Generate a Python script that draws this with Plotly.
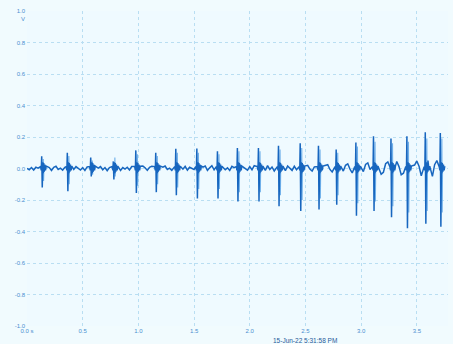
import plotly.graph_objects as go

# Spike (beat) times in seconds, with positive and negative peak voltages
spike_t = [0.132, 0.362, 0.572, 0.775, 0.977, 1.156, 1.336, 1.525, 1.710, 1.889, 2.078,
           2.258, 2.453, 2.617, 2.776, 2.953, 3.111, 3.268, 3.411, 3.576, 3.711]
spike_up = [0.078, 0.10, 0.07, 0.045, 0.115, 0.10, 0.125, 0.127, 0.11, 0.13, 0.13,
            0.145, 0.16, 0.145, 0.12, 0.165, 0.205, 0.19, 0.205, 0.23, 0.225]
spike_down = [-0.12, -0.145, -0.05, -0.07, -0.155, -0.15, -0.17, -0.19, -0.19, -0.21, -0.21,
              -0.24, -0.27, -0.26, -0.23, -0.30, -0.27, -0.31, -0.38, -0.35, -0.37]
# Paler companion spikes drawn just after each main spike
ghost_up = [0.06, 0.08, 0.05, 0.07, 0.09, 0.08, 0.10, 0.10, 0.09, 0.11, 0.11,
            0.12, 0.13, 0.12, 0.10, 0.14, 0.17, 0.16, 0.17, 0.19, 0.19]
ghost_down = [-0.08, -0.10, -0.04, -0.05, -0.11, -0.10, -0.12, -0.13, -0.13, -0.15, -0.15,
              -0.17, -0.20, -0.19, -0.17, -0.22, -0.21, -0.24, -0.28, -0.27, -0.28]

# Baseline samples read every 0.02 s
bg_step = 0.02
bg_v = [
    0.0, -0.008, 0.006, -0.01, 0.008, 0.002, -0.012, 0.01, 0.012, -0.006, 0.006, -0.012, 0.008,
    0.014, -0.006, 0.002, -0.01, 0.008, 0.0, -0.008, 0.01, -0.006, 0.012, 0.002, -0.01,
    0.006, -0.012, 0.01, 0.008, -0.006, 0.014, -0.01, 0.002, 0.012, -0.008, 0.006, -0.014, 0.006,
    0.012, -0.007, 0.0, 0.01, -0.012, 0.006, -0.004, 0.008, -0.01, 0.012, 0.002, -0.008,
    0.012, -0.01, 0.016, 0.004, -0.012, 0.008, 0.014, -0.008, 0.0, 0.01, -0.014, 0.008, 0.016,
    -0.006, 0.002, -0.012, 0.01, 0.004, -0.008, 0.012, -0.004, 0.014, -0.01, 0.008, 0.002,
    -0.006, 0.014, 0.02, -0.01, 0.008, 0.016, -0.012, 0.004, 0.018, -0.008, 0.012, -0.014, 0.01,
    0.018, -0.008, 0.004, -0.012, 0.014, 0.006, -0.01, 0.012, -0.006, 0.016, 0.002, -0.01,
    0.012, -0.008, 0.018, 0.008, -0.014, 0.016, 0.004, -0.012, 0.018, -0.006, 0.01, -0.016, 0.014,
    0.02, -0.01, 0.006, -0.014, 0.016, 0.004, -0.012, 0.014, -0.008, 0.018, 0.006, -0.012,
    0.014, 0.02, -0.004, -0.016, 0.01, 0.022, 0.004, -0.018, -0.012, 0.018, 0.024, -0.006, -0.022,
    0.012, 0.026, 0.008, -0.024, -0.016, 0.02, 0.03, -0.004, -0.028, 0.016, 0.03, 0.004,
    -0.03, -0.02, 0.026, 0.036, -0.006, -0.034, 0.018, 0.04, 0.01, -0.036, -0.024, 0.03, 0.042,
    -0.008, -0.04, 0.02, 0.044, 0.012, -0.04, -0.03, 0.034, 0.046, -0.01, -0.044, 0.022,
    0.048, 0.014, -0.046, -0.034, 0.036, 0.05, -0.012, -0.05, 0.024, 0.05, 0.01, -0.048, -0.036, 0.03,
]
# Small burst that follows each spike (offset s, value V)
burst_dt = [0.010, 0.014, 0.018, 0.023, 0.028, 0.034, 0.040]
burst_v = [0.04, -0.03, 0.035, -0.02, 0.025, -0.012, 0.015]

x_tick_vals = [0.0, 0.5, 1.0, 1.5, 2.0, 2.5, 3.0, 3.5]
x_tick_text = ["0.0 s", "0.5", "1.0", "1.5", "2.0", "2.5", "3.0", "3.5"]
y_tick_vals = [1.0, 0.8, 0.6, 0.4, 0.2, 0.0, -0.2, -0.4, -0.6, -0.8, -1.0]
y_tick_text = ["1.0", "0.8", "0.6", "0.4", "0.2", "0.0", "-0.2", "-0.4", "-0.6", "-0.8", "-1.0"]
timestamp = "15-Jun-22 5:31:58 PM"

# Main polyline: baseline samples plus beat vertices
pts = []
for i, v in enumerate(bg_v):
    t = i * bg_step
    if min(abs(t - s) for s in spike_t) > 0.02 and min(abs(t - s - 0.04) for s in spike_t) > 0.012:
        pts.append((t, v))
for s, u, d in zip(spike_t, spike_up, spike_down):
    pts += [(s - 0.010, 0.012), (s - 0.004, -0.012), (s, u), (s + 0.005, d)]
    pts += [(s + dt, bv) for dt, bv in zip(burst_dt, burst_v)]
pts.sort()
xs = [p[0] for p in pts]
ys = [p[1] for p in pts]

# Ghost spikes as separate segments
gx, gy = [], []
for s, u, d in zip(spike_t, ghost_up, ghost_down):
    gx += [s + 0.012, s + 0.014, s + 0.017, s + 0.020, None]
    gy += [0.0, u, d, 0.0, None]

fig = go.Figure()
fig.add_trace(go.Scatter(x=gx, y=gy, mode="lines", connectgaps=False,
                         line=dict(color="#6fb0ea", width=1.1), hoverinfo="skip"))
fig.add_trace(go.Scatter(x=xs, y=ys, mode="lines",
                         line=dict(color="#1766bf", width=1.5), hoverinfo="skip"))

axis_font = dict(family="Liberation Sans, Arial, sans-serif", size=6, color="#4a8fd0")
grid = dict(showgrid=True, gridcolor="#b9def2", gridwidth=1, griddash="dot",
            zeroline=False, showline=False, ticks="", tickfont=axis_font)

fig.update_layout(
    width=453, height=344,
    margin=dict(l=27, r=5, t=11, b=18),
    paper_bgcolor="#f1fbfe", plot_bgcolor="#effaff",
    showlegend=False,
    xaxis=dict(range=[0, 3.78], tickvals=x_tick_vals, ticktext=x_tick_text, **grid),
    yaxis=dict(range=[-1.0, 1.0], tickvals=y_tick_vals, ticktext=y_tick_text,
               ticklabelstandoff=1, **grid),
    annotations=[
        dict(text="V", x=0, xref="paper", xanchor="right", xshift=0,
             y=0.95, yref="y", showarrow=False, font=axis_font),
        dict(text=timestamp, x=2.5, xref="x", y=0, yref="paper", yanchor="top",
             yshift=-9, showarrow=False,
             font=dict(family="Liberation Sans, Arial, sans-serif", size=6.5, color="#1f5a9a")),
    ],
)

fig.write_html("out.html", config={"displayModeBar": False},
               post_script="document.body.style.margin='0px';")
